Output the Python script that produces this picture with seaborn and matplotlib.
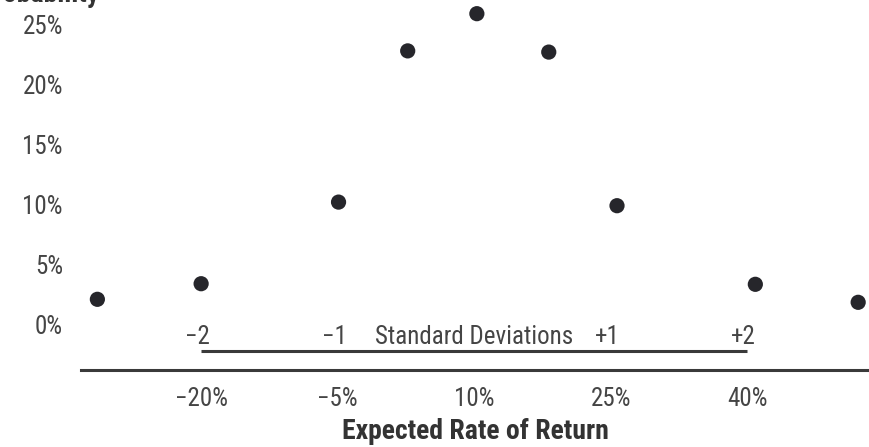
import pandas as pd
import numpy as np
import seaborn as sns
import matplotlib.pyplot as plt

# data
returns = [-31.4, -20.0, -4.9, 2.7, 10.3, 18.2, 25.7, 40.9, 52.2]
probability = [2.1, 3.4, 10.2, 22.8, 25.9, 22.7, 9.9, 3.35, 1.85]

x_ticks = [-20, -5, 10, 25, 40]
x_tick_labels = ['\u221220%', '\u22125%', '10%', '25%', '40%']
y_ticks = [0, 5, 10, 15, 20, 25]
y_tick_labels = ['0%', '5%', '10%', '15%', '20%', '25%']

sd_positions = [-20, -5, 25, 40]
sd_labels = ['\u22122', '\u22121', '+1', '+2']
sd_title = 'Standard Deviations'
sd_title_pos = 10

df = pd.DataFrame({'ret': returns, 'prob': probability})

sns.set_theme(style='white')
plt.rcParams['font.family'] = ['Roboto Condensed', 'Archivo Narrow', 'DejaVu Sans']

fig = plt.figure(figsize=(8.7, 4.47), dpi=100)
ax = fig.add_axes([81 / 870, 77 / 447, 1 - 81 / 870, 370 / 447])

sns.scatterplot(data=df, x='ret', y='prob', ax=ax, color='#26262b', s=120,
                edgecolor='none', legend=False)

ax.set_xlim(-33.2, 53.5)
ax.set_ylim(-3.79, 27.04)

ax.set_xticks(x_ticks)
ax.set_xticklabels(x_tick_labels)
ax.set_yticks(y_ticks)
ax.set_yticklabels(y_tick_labels)
ax.tick_params(axis='both', length=0, labelsize=18, labelcolor='#454545')
ax.tick_params(axis='x', pad=12)
ax.tick_params(axis='y', pad=13)

for side in ['top', 'left', 'right']:
    ax.spines[side].set_visible(False)
ax.spines['bottom'].set_color('#3a3a3a')
ax.spines['bottom'].set_linewidth(2.2)

# standard deviation scale
sd_y = -2.18
ax.plot([sd_positions[0], sd_positions[-1]], [sd_y, sd_y], color='#3a3a3a', lw=2.2,
        solid_capstyle='butt', clip_on=False)
for pos, lab in zip(sd_positions, sd_labels):
    ax.text(pos - 0.4, -1.63, lab, ha='center', va='baseline', fontsize=18, color='#454545')
ax.text(sd_title_pos, -1.63, sd_title, ha='center', va='baseline', fontsize=18, color='#454545')

ax.set_xlabel('Expected Rate of Return', fontsize=20, fontweight='bold', color='#333333',
              labelpad=5)
ax.set_ylabel('')

# y axis title, cut off at the top of the picture
fig.text(100 / 870, 1 - 2 / 447, 'Probability', ha='right', va='baseline', fontsize=20,
         fontweight='bold', color='#333333')

plt.savefig('out.png', dpi=100)
